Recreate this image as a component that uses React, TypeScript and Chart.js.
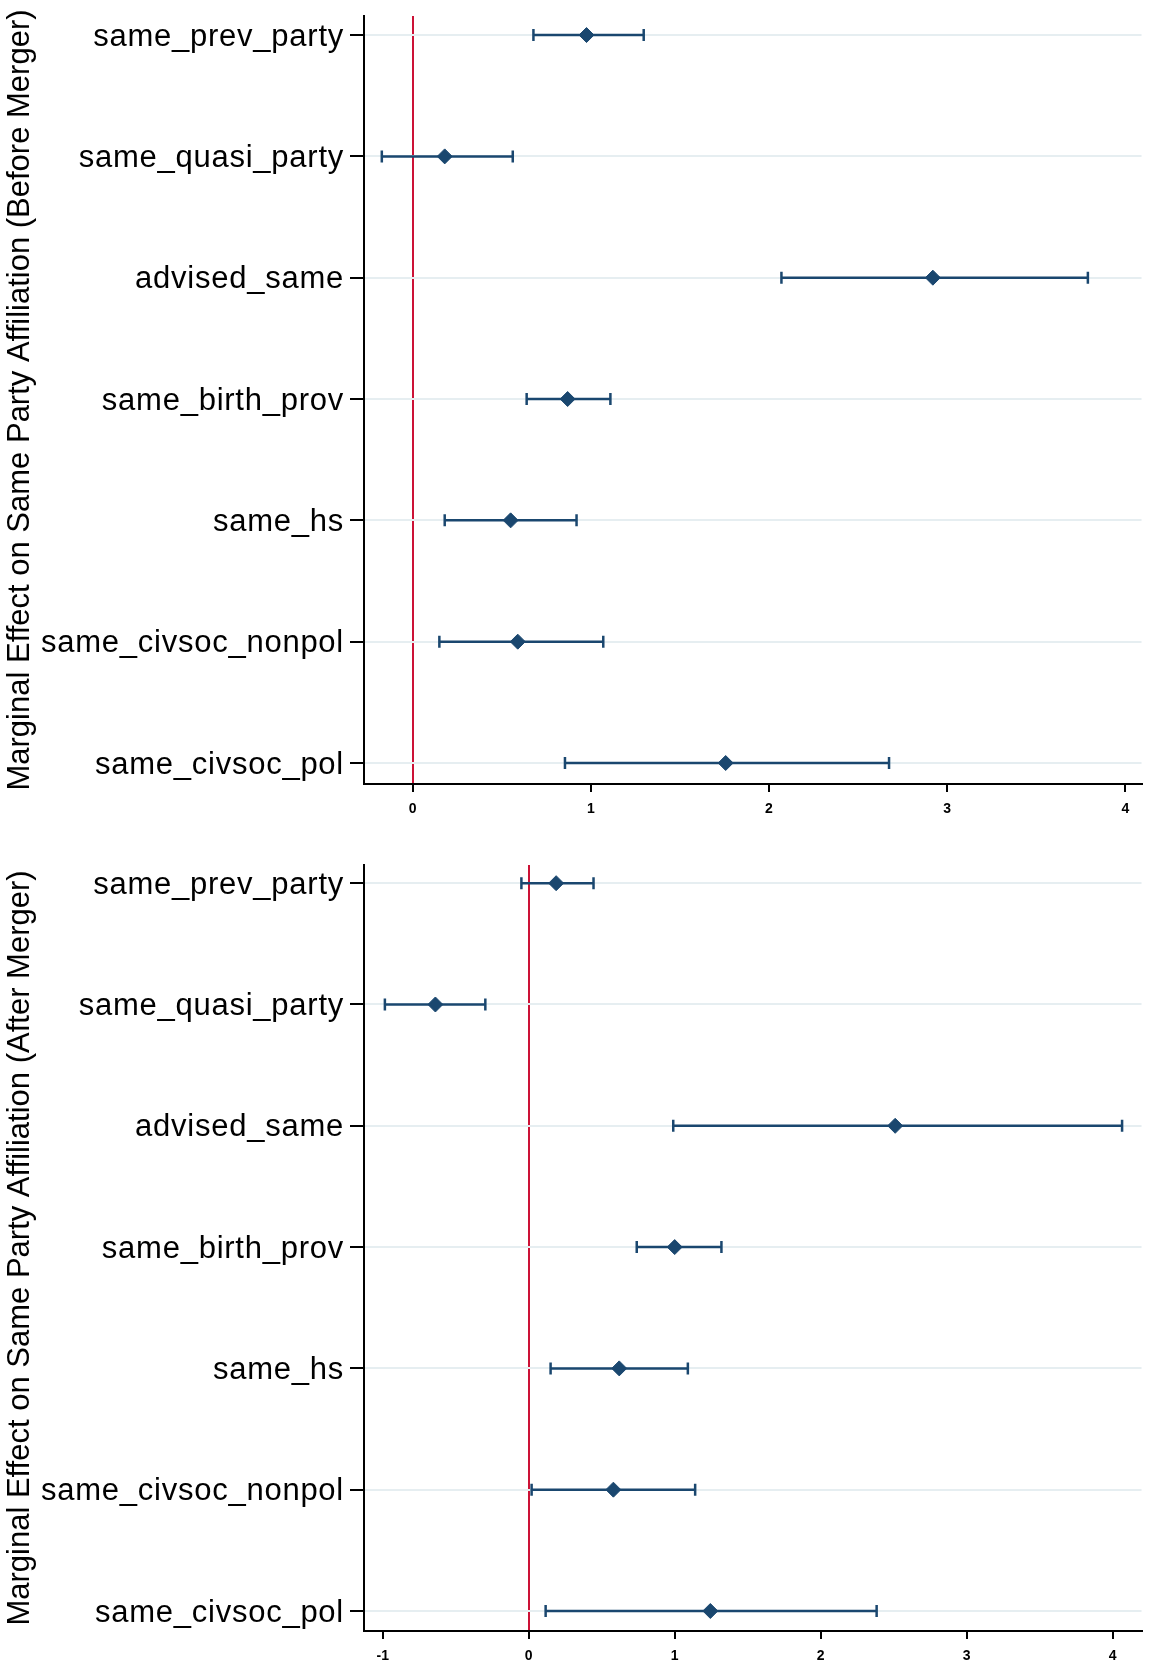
import React, { useEffect, useRef } from 'react';
import { Chart, registerables } from 'chart.js';

Chart.register(...registerables);

const categories = [
  'same_prev_party',
  'same_quasi_party',
  'advised_same',
  'same_birth_prov',
  'same_hs',
  'same_civsoc_nonpol',
  'same_civsoc_pol',
];

const xTicksBefore = [0, 1, 2, 3, 4];
const xTicksAfter = [-1, 0, 1, 2, 3, 4];

const estBefore = [0.976, 0.18, 2.92, 0.87, 0.55, 0.59, 1.757];
const loBefore = [0.678, -0.173, 2.07, 0.64, 0.18, 0.15, 0.855];
const hiBefore = [1.297, 0.562, 3.79, 1.11, 0.92, 1.07, 2.674];

const estAfter = [0.188, -0.639, 2.51, 1.0, 0.62, 0.58, 1.244];
const loAfter = [-0.05, -0.985, 0.99, 0.74, 0.15, 0.02, 0.116];
const hiAfter = [0.444, -0.297, 4.064, 1.32, 1.09, 1.14, 2.383];

const titleBefore = 'Marginal Effect on Same Party Affiliation (Before Merger)';
const titleAfter = 'Marginal Effect on Same Party Affiliation (After Merger)';

const NAVY = '#1a476f';
const RED = '#cc1236';
const GRID = '#e6eef1';
const FONT = "'Liberation Sans', Arial, sans-serif";

// widen the y tick labels (drawn after the datasets, at z = 1)
const labelSpacing = {
  id: 'labelSpacing',
  afterDatasetsDraw(chart: any) {
    chart.ctx.letterSpacing = '0.75px';
  },
  afterDraw(chart: any) {
    chart.ctx.letterSpacing = '0px';
  },
};

type PanelCfg = {
  est: number[];
  lo: number[];
  hi: number[];
  xTicks: number[];
  xMin: number;
  xMax: number;
  yMin: number;
  yMax: number;
  title: string;
  padTop: number;
  xAxisHeight: number;
};

function makeConfig(p: PanelCfg): any {
  const ciSets = categories.map((c, i) => ({
    type: 'scatter',
    label: c,
    data: [
      { x: p.lo[i], y: i },
      { x: p.hi[i], y: i },
    ],
    showLine: true,
    borderColor: NAVY,
    borderWidth: 2.5,
    pointStyle: 'line',
    rotation: 90,
    pointRadius: 6,
    pointHoverRadius: 6,
    pointBorderWidth: 2.5,
    pointBorderColor: NAVY,
    pointBackgroundColor: NAVY,
    fill: false,
    order: 2,
  }));
  const estSet = {
    type: 'scatter',
    label: 'estimate',
    data: p.est.map((v, i) => ({ x: v, y: i })),
    pointStyle: 'rectRot',
    pointRadius: 7.5,
    pointHoverRadius: 7.5,
    backgroundColor: NAVY,
    borderColor: NAVY,
    borderWidth: 1,
    order: 1,
  };
  return {
    type: 'scatter',
    data: { datasets: [...ciSets, estSet] },
    plugins: [labelSpacing],
    options: {
      animation: false,
      responsive: false,
      events: [],
      layout: { padding: { top: p.padTop, right: 7, bottom: 0, left: 0 } },
      plugins: {
        legend: { display: false },
        tooltip: { enabled: false },
      },
      scales: {
        x: {
          type: 'linear',
          min: p.xMin,
          max: p.xMax,
          afterBuildTicks: (s: any) => {
            s.ticks = p.xTicks.map((v) => ({ value: v }));
          },
          afterFit: (s: any) => {
            s.height = p.xAxisHeight;
            s.paddingLeft = 0;
            s.paddingRight = 0;
          },
          ticks: {
            color: '#000',
            font: { family: FONT, size: 14, weight: 'bold' },
            padding: 9,
            maxRotation: 0,
            callback: (v: any) => String(v),
          },
          grid: {
            drawOnChartArea: true,
            color: (ctx: any) =>
              ctx.tick && ctx.tick.value === 0 ? RED : 'rgba(0,0,0,0)',
            lineWidth: 2,
            tickColor: '#000',
            tickLength: 8,
            tickWidth: 2,
          },
          border: { display: true, color: '#000', width: 2 },
        },
        y: {
          type: 'linear',
          reverse: true,
          min: p.yMin,
          max: p.yMax,
          afterBuildTicks: (s: any) => {
            s.ticks = categories.map((_, i) => ({ value: i }));
          },
          afterFit: (s: any) => {
            s.width = 364;
            s.paddingTop = 0;
            s.paddingBottom = 0;
          },
          ticks: {
            color: '#000',
            font: { family: FONT, size: 31 },
            padding: 6,
            labelOffset: 2,
            z: 1,
            callback: (v: any) => categories[v],
          },
          grid: {
            drawOnChartArea: true,
            color: GRID,
            lineWidth: 2,
            tickColor: '#000',
            tickLength: 14,
            tickWidth: 2,
          },
          border: { display: true, color: '#000', width: 2 },
          title: {
            display: true,
            text: p.title,
            color: '#000',
            font: { family: FONT, size: 31 },
            padding: { top: 2, bottom: 0 },
          },
        },
      },
    },
  };
}

function Panel({ cfg }: { cfg: PanelCfg }) {
  const ref = useRef<HTMLCanvasElement | null>(null);
  useEffect(() => {
    if (!ref.current) return;
    const chart = new Chart(ref.current, makeConfig(cfg));
    return () => chart.destroy();
  }, [cfg]);
  return (
    <canvas
      ref={ref}
      width={1150}
      height={835}
      style={{ display: 'block', width: 1150, height: 835 }}
    />
  );
}

const beforeCfg: PanelCfg = {
  est: estBefore,
  lo: loBefore,
  hi: hiBefore,
  xTicks: xTicksBefore,
  xMin: -0.273,
  xMax: 4.091,
  yMin: -0.157,
  yMax: 6.173,
  title: titleBefore,
  padTop: 16,
  xAxisHeight: 51,
};

const afterCfg: PanelCfg = {
  est: estAfter,
  lo: loAfter,
  hi: hiAfter,
  xTicks: xTicksAfter,
  xMin: -1.128,
  xMax: 4.197,
  yMin: -0.15,
  yMax: 6.165,
  title: titleAfter,
  padTop: 30,
  xAxisHeight: 39,
};

export default function App() {
  return (
    <div
      style={{
        position: 'absolute',
        left: 0,
        top: 0,
        width: 1150,
        height: 1670,
        background: '#fff',
      }}
    >
      <Panel cfg={beforeCfg} />
      <Panel cfg={afterCfg} />
    </div>
  );
}
